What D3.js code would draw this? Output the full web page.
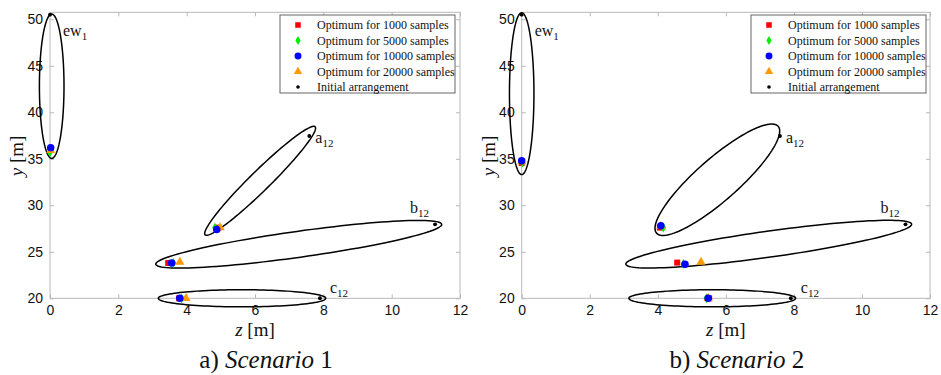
<!DOCTYPE html>
<html><head><meta charset="utf-8">
<script src="https://cdn.jsdelivr.net/npm/d3@7"></script>
<style>body{margin:0;background:#fff} svg{display:block}</style>
</head><body><svg id="chart" width="941" height="375"></svg>
<script>
// Axis ticks
const xTicks = [0, 2, 4, 6, 8, 10, 12];
const yTicks = [20, 25, 30, 35, 40, 45, 50];

// Legend entries
const seriesNames = ["Optimum for 1000 samples", "Optimum for 5000 samples",
  "Optimum for 10000 samples", "Optimum for 20000 samples", "Initial arrangement"];

// Element groups (order of rows below)
const groups = ["ew1", "a12", "b12", "c12"];

// Scenario 1 optimum positions [z, y] for ew1, a12, b12, c12
const s1_1000  = [[0.02, 36.0], [4.93, 27.6], [3.46, 23.8], [3.78, 20.0]];
const s1_5000  = [[0.00, 35.7], [4.83, 27.6], [3.61, 23.8], [3.85, 20.0]];
const s1_10000 = [[0.02, 36.2], [4.88, 27.4], [3.56, 23.8], [3.80, 20.0]];
const s1_20000 = [[0.02, 35.9], [4.98, 27.6], [3.80, 23.9], [3.98, 20.0]];
const s1_initial = [[0.00, 50.5], [7.59, 37.45], [11.27, 27.95], [7.90, 20.0]];

// Scenario 2 optimum positions [z, y]
const s2_1000  = [[0.00, 34.55], [4.06, 27.6], [4.57, 23.84], [5.51, 20.0]];
const s2_5000  = [[0.02, 34.6], [4.16, 27.6], [4.75, 23.7], [5.43, 20.0]];
const s2_10000 = [[0.00, 34.8], [4.09, 27.8], [4.80, 23.65], [5.48, 20.0]];
const s2_20000 = [[0.00, 34.7], [4.09, 27.75], [5.27, 23.9], [5.48, 20.0]];
const s2_initial = [[0.00, 50.5], [7.59, 37.45], [11.28, 27.95], [7.91, 20.0]];

// Search regions: centre [z, y], first and second semi-axis vectors [dz, dy]
const s1_regions = [
  [[0.05, 42.8], [0, 7.76], [0.36, 0]],
  [[6.15, 32.63], [1.61, 5.81], [0.207, -0.76]],
  [[7.28, 25.81], [4.185, 2.15], [0.053, -1.384]],
  [[5.62, 20.0], [2.45, 0], [0, 0.92]]
];
const s2_regions = [
  [[0.00, 42.0], [0, 8.7], [0.36, 0]],
  [[5.75, 32.75], [1.787, 5.745], [0.407, -1.702]],
  [[7.26, 25.82], [4.20, 2.156], [0.053, -1.387]],
  [[5.60, 20.0], [2.45, 0], [0, 0.92]]
];

const captions = [["a) ", "Scenario", " 1"], ["b) ", "Scenario", " 2"]];

const colors = ["#ff0000", "#00ee00", "#0000ff", "#ff9900", "#000000"];

const SERIF = "'Liberation Serif', 'Times New Roman', Times, serif";
const SANS = "'Liberation Sans', Arial, Helvetica, sans-serif";

const svg = d3.select("#chart");
const AX = "#b8b8b8";

function symbolPath(i, scale) {
  const types = [d3.symbolSquare, d3.symbolDiamond, d3.symbolCircle, d3.symbolTriangle, d3.symbolCircle];
  const sizes = [36, 28, 44, 36, 12];
  return d3.symbol().type(types[i]).size(sizes[i] * (scale || 1))();
}

function panel(opts) {
  const g = svg.append("g");
  const x = d3.scaleLinear().domain([0, 12]).range([opts.left, opts.right]);
  const y = d3.scaleLinear().domain([20, 50.75]).range([298.3, 12.3]);

  // box
  g.append("rect").attr("x", x(0)).attr("y", y(50.75))
    .attr("width", x(12) - x(0)).attr("height", y(20) - y(50.75))
    .attr("fill", "none").attr("stroke", AX).attr("stroke-width", 1);

  const bottom = g.append("g").attr("transform", `translate(0,${y(20)})`)
    .call(d3.axisBottom(x).tickValues(xTicks).tickFormat(d3.format("d")).tickSizeInner(-4).tickSizeOuter(0).tickPadding(7));
  const top = g.append("g").attr("transform", `translate(0,${y(50.75)})`)
    .call(d3.axisTop(x).tickValues(xTicks).tickFormat("").tickSizeInner(-4).tickSizeOuter(0));
  const left = g.append("g").attr("transform", `translate(${x(0)},0)`)
    .call(d3.axisLeft(y).tickValues(yTicks).tickFormat(d3.format("d")).tickSizeInner(-4).tickSizeOuter(0).tickPadding(7));
  const right = g.append("g").attr("transform", `translate(${x(12)},0)`)
    .call(d3.axisRight(y).tickValues(yTicks).tickFormat("").tickSizeInner(-4).tickSizeOuter(0));
  [bottom, top, left, right].forEach(a => {
    a.select(".domain").remove();
    a.selectAll(".tick line").attr("stroke", AX);
    a.selectAll("text").attr("font-family", SANS).attr("font-size", 14).attr("fill", "#111");
  });

  // axis titles
  const xt = g.append("text").attr("x", (x(0) + x(12)) / 2).attr("y", 336)
    .attr("text-anchor", "middle").attr("font-family", SERIF).attr("font-size", 19).attr("fill", "#111");
  xt.append("tspan").attr("font-style", "italic").text("z");
  xt.append("tspan").text(" [m]");
  const yt = g.append("text").attr("transform", `translate(${x(0) - 27},${y(35.3)}) rotate(-90)`)
    .attr("text-anchor", "middle").attr("font-family", SERIF).attr("font-size", 19).attr("fill", "#111");
  yt.append("tspan").attr("font-style", "italic").text("y");
  yt.append("tspan").text(" [m]");

  // regions
  const ts = d3.range(0, 361, 3).map(d => d * Math.PI / 180);
  const line = d3.line().x(d => x(d[0])).y(d => y(d[1])).curve(d3.curveLinearClosed);
  opts.regions.forEach(([c, u, v]) => {
    const pts = ts.map(t => [c[0] + Math.cos(t) * u[0] + Math.sin(t) * v[0],
                             c[1] + Math.cos(t) * u[1] + Math.sin(t) * v[1]]);
    g.append("path").attr("d", line(pts)).attr("fill", "none").attr("stroke", "#000").attr("stroke-width", 1.5);
  });

  // points: red, green, orange, blue, initial
  const order = [0, 1, 3, 2, 4];
  order.forEach(i => {
    g.append("g").selectAll("path").data(opts.series[i]).join("path")
      .attr("d", symbolPath(i))
      .attr("transform", d => `translate(${x(d[0])},${y(d[1])})`)
      .attr("fill", colors[i]);
  });

  // group labels next to initial points
  const offsets = [[13, 21], [6, 7], [-25, -11], [10, -5]];
  const names = [["ew", "1"], ["a", "12"], ["b", "12"], ["c", "12"]];
  opts.series[4].forEach((d, i) => {
    const t = g.append("text").attr("x", x(d[0]) + offsets[i][0]).attr("y", y(d[1]) + offsets[i][1])
      .attr("font-family", SERIF).attr("font-size", 16).attr("fill", "#111");
    t.append("tspan").text(names[i][0]);
    t.append("tspan").attr("font-size", 11).attr("dy", 4).text(names[i][1]);
  });

  // legend
  const lg = g.append("g");
  const lx = opts.legendX;
  lg.append("rect").attr("x", lx).attr("y", 15).attr("width", 175).attr("height", 78)
    .attr("fill", "#fff").attr("stroke", "#666").attr("stroke-width", 1);
  seriesNames.forEach((s, i) => {
    const yy = 25 + i * 15.5;
    lg.append("path").attr("d", symbolPath(i, 0.85)).attr("transform", `translate(${lx + 18},${yy})`).attr("fill", colors[i]);
    lg.append("text").attr("x", lx + 37).attr("y", yy + 4).attr("font-family", SERIF)
      .attr("font-size", 12).attr("fill", "#111").text(s);
  });

  // caption
  const cap = g.append("text").attr("x", (x(0) + x(12)) / 2 + 11).attr("y", 368).attr("text-anchor", "middle")
    .attr("font-family", SERIF).attr("font-size", 25).attr("fill", "#111");
  cap.append("tspan").text(opts.caption[0]);
  cap.append("tspan").attr("font-style", "italic").text(opts.caption[1]);
  cap.append("tspan").text(opts.caption[2]);
}

panel({ left: 50, right: 460, legendX: 280, regions: s1_regions,
  series: [s1_1000, s1_5000, s1_10000, s1_20000, s1_initial], caption: captions[0] });
panel({ left: 521.7, right: 930, legendX: 751, regions: s2_regions,
  series: [s2_1000, s2_5000, s2_10000, s2_20000, s2_initial], caption: captions[1] });
</script>
</body></html>
